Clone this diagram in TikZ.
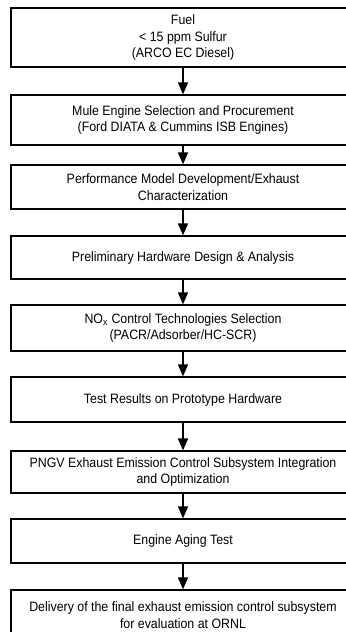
\documentclass[tikz,border=0pt]{standalone}
\usepackage{fontspec}
\setmainfont[FakeStretch=0.91]{Liberation Sans}
\usetikzlibrary{arrows.meta,shadows}
\begin{document}
\begin{tikzpicture}[x=0.75pt,y=-0.75pt,
  stepbox/.style={draw=black, line width=0.9pt, fill=white, align=center,
    minimum width=258pt, inner sep=0pt,
    font=\fontsize{10.2}{12.5}\selectfont,
    drop shadow={shadow xshift=1.1pt, shadow yshift=-1.1pt, fill=black, opacity=1}},
  flow/.style={line width=1.2pt, -{Triangle[width=7.5pt,length=9pt]}}]
\useasboundingbox (0,0) rectangle (346,632);
\begin{scope}
\clip (0,0) rectangle (346,632);
\node[stepbox, minimum height=44.25pt] (b1) at (183,37.5) {Fuel\\ < 15 ppm Sulfur\\ (ARCO EC Diesel)};
\node[stepbox, minimum height=37.5pt] (b2) at (183,120) {Mule Engine Selection and Procurement\\ (Ford DIATA \& Cummins ISB Engines)};
\node[stepbox, minimum height=33pt] (b3) at (183,187) {Performance Model Development/Exhaust\\ Characterization};
\node[stepbox, minimum height=32.25pt] (b4) at (183,257.5) {Preliminary Hardware Design \& Analysis};
\node[stepbox, minimum height=34.5pt] (b5) at (183,328) {NO\textsubscript{x} Control Technologies Selection\\ (PACR/Adsorber/HC-SCR)};
\node[stepbox, minimum height=33.75pt] (b6) at (183,399.5) {Test Results on Prototype Hardware};
\node[stepbox, minimum height=31.5pt] (b7) at (183,472) {PNGV Exhaust Emission Control Subsystem Integration\\ and Optimization};
\node[stepbox, minimum height=33pt] (b8) at (183,541) {Engine Aging Test};
\node[stepbox, minimum height=37.5pt] (b9) at (183,615) {Delivery of the final exhaust emission control subsystem\\ for evaluation at ORNL};
\foreach \a/\b in {b1/b2,b2/b3,b3/b4,b4/b5,b5/b6,b6/b7,b7/b8,b8/b9}
  \draw[flow] (\a.south) -- (\b.north);
\end{scope}
\end{tikzpicture}
\end{document}
